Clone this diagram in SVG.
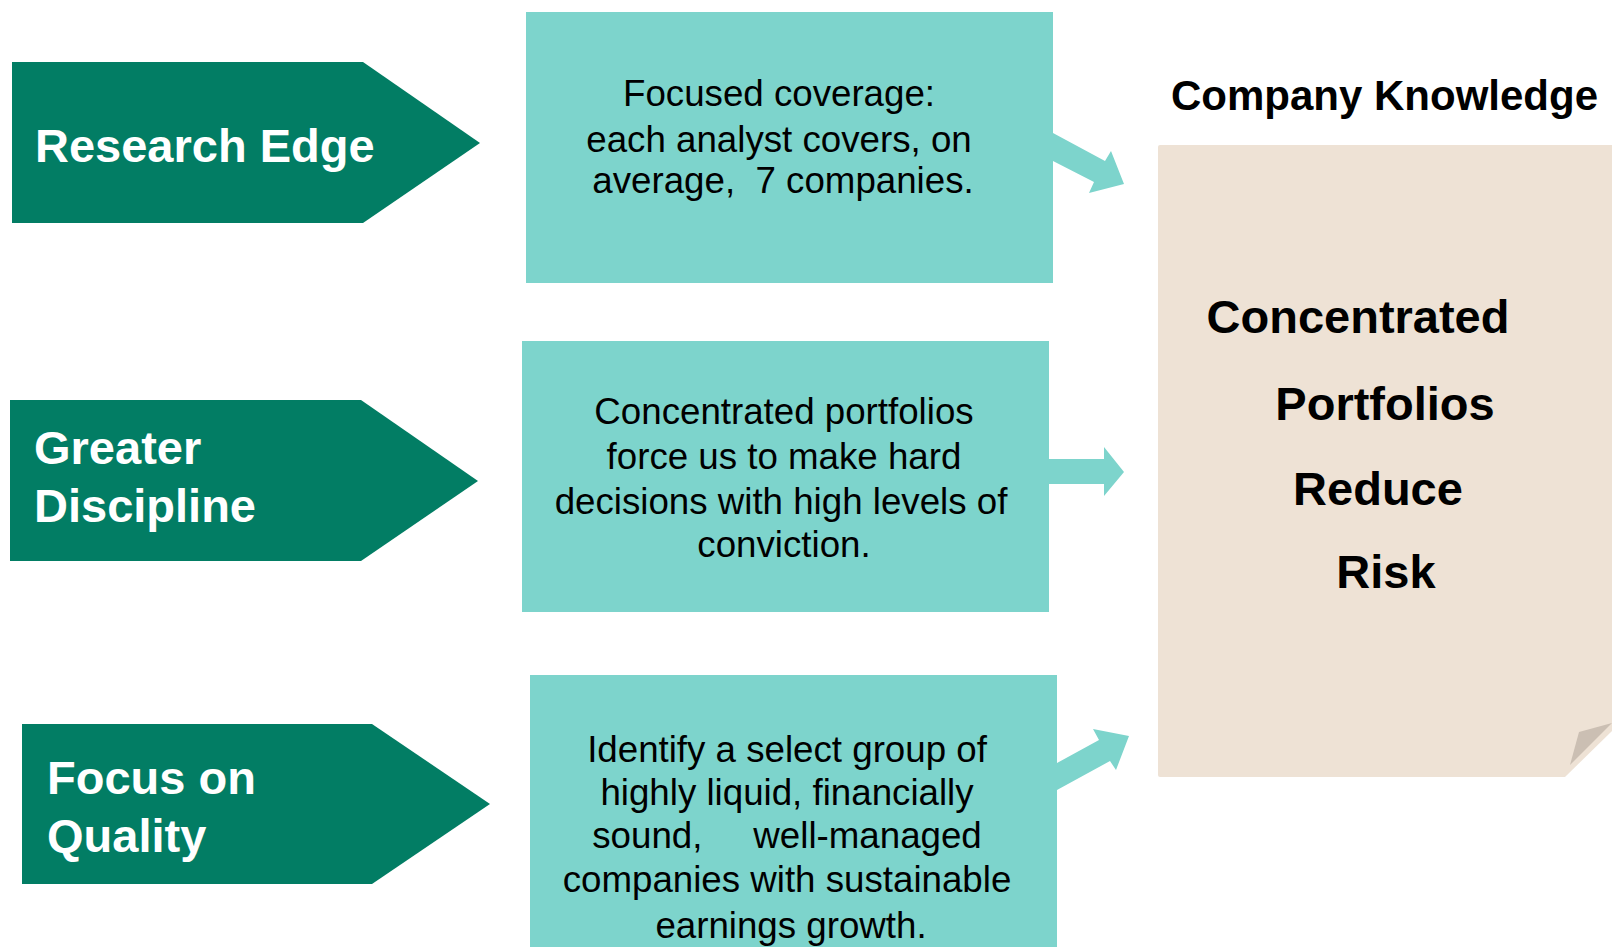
<svg xmlns="http://www.w3.org/2000/svg" width="1612" height="949" viewBox="0 0 1612 949">
<style>
.green{fill:#027D64}
.teal{fill:#7DD4CC}
.lbl{font-family:"Liberation Sans",Arial,sans-serif;font-weight:bold;font-size:47px;fill:#FFFFFF}
.body{font-family:"Liberation Sans",Arial,sans-serif;font-size:36.7px;fill:#000000;text-anchor:middle}
.big{font-family:"Liberation Sans",Arial,sans-serif;font-weight:bold;font-size:47px;fill:#000000;text-anchor:middle}
</style>
<rect width="1612" height="949" fill="#FFFFFF"/>
<g id="research-edge">
<polygon class="green" points="12,62 363,62 480,143 363,223 12,223"/>
<text class="lbl" x="35" y="162">Research Edge</text>
</g>
<g id="greater-discipline">
<polygon class="green" points="10,400 361,400 478,481 361,561 10,561"/>
<text class="lbl" x="34" y="464">Greater</text>
<text class="lbl" x="34" y="522">Discipline</text>
</g>
<g id="focus-on-quality">
<polygon class="green" points="22,724 372,724 490,804 372,884 22,884"/>
<text class="lbl" x="47" y="794">Focus on</text>
<text class="lbl" x="47" y="852">Quality</text>
</g>
<g id="box-coverage">
<rect class="teal" x="526" y="12" width="527" height="271"/>
<text class="body" x="779" y="106">Focused coverage:</text>
<text class="body" x="779" y="152">each analyst covers, on</text>
<text class="body" x="783" y="193" xml:space="preserve">average,  7 companies.</text>
</g>
<g id="box-portfolios">
<rect class="teal" x="522" y="341" width="527" height="271"/>
<text class="body" x="784" y="424">Concentrated portfolios</text>
<text class="body" x="784" y="469">force us to make hard</text>
<text class="body" x="781" y="514">decisions with high levels of</text>
<text class="body" x="784" y="557">conviction.</text>
</g>
<g id="box-quality">
<rect class="teal" x="530" y="675" width="527" height="272"/>
<text class="body" x="787" y="762">Identify a select group of</text>
<text class="body" x="787" y="805">highly liquid, financially</text>
<text class="body" x="787" y="848" xml:space="preserve">sound,     well-managed</text>
<text class="body" x="787" y="892">companies with sustainable</text>
<text class="body" x="791" y="938">earnings growth.</text>
</g>
<g id="company-knowledge">
<text x="1171" y="110" font-family="'Liberation Sans',Arial,sans-serif" font-weight="bold" font-size="42" fill="#000000">Company Knowledge</text>
<path d="M1160,145 L1612,145 L1612,731 L1565,777 L1160,777 Q1158,777 1158,775 L1158,147 Q1158,145 1160,145 Z" fill="#EEE2D5"/>
<polygon points="1579,732 1612,723 1570,765" fill="#CBBFB3"/>
<text class="big" x="1358" y="333">Concentrated</text>
<text class="big" x="1385" y="420">Portfolios</text>
<text class="big" x="1378" y="505">Reduce</text>
<text class="big" x="1386" y="588">Risk</text>
</g>
<g id="connectors">
<polygon class="teal" points="1053,133 1105,161 1111,151 1124,184 1089,193 1094,182 1053,161"/>
<polygon class="teal" points="1049,459 1104,459 1104,447 1124,472 1104,496 1104,484 1049,484"/>
<polygon class="teal" points="1057,763 1099,740 1093,729 1129,736 1116,770 1110,761 1057,790"/>
</g>
</svg>
